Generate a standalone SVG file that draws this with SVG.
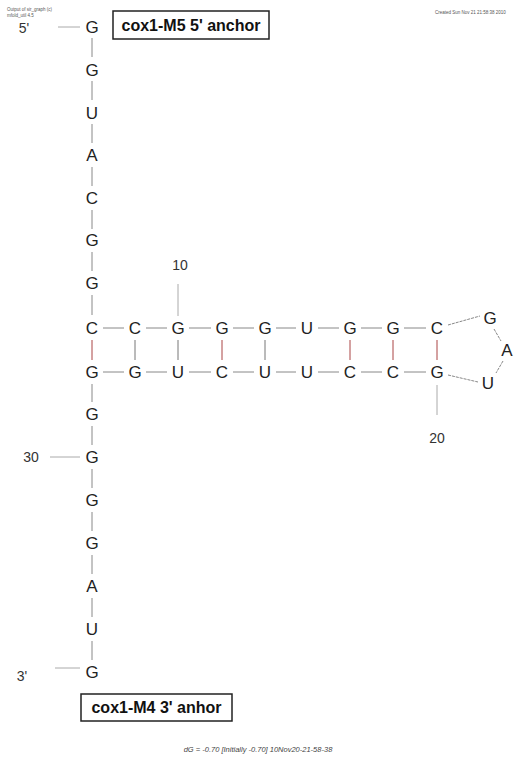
<svg xmlns="http://www.w3.org/2000/svg" width="518" height="772" viewBox="0 0 518 772">
<style>
.b{font-family:"Liberation Sans",Arial,sans-serif;font-size:17px;fill:#222;text-anchor:middle}
.n{font-family:"Liberation Sans",Arial,sans-serif;font-size:14px;fill:#333;text-anchor:middle}
.s{font-family:"Liberation Sans",Arial,sans-serif;font-size:4.5px;fill:#555}
.lbl{font-family:"Liberation Sans",Arial,sans-serif;font-size:16px;font-weight:bold;fill:#111;text-anchor:middle}
.ln{stroke:#888;stroke-width:1;fill:none}
.gc{stroke:#a44;stroke-width:1;fill:none}
.gu{stroke:#777;stroke-width:1;fill:none}
.box{fill:#fff;stroke:#222;stroke-width:1.5}
</style>
<rect width="518" height="772" fill="#fff"/>
<text class="s" x="7" y="11">Output of sir_graph (c)</text>
<text class="s" x="7" y="17">mfold_util 4.5</text>
<text class="s" x="435" y="14">Created Sun Nov 21 21:58:38 2010</text>
<g id="connectors">
<path class="ln" d="M92 38V57M92 81V100M92 124V143M92 167V186M92 210V229M92 252V271M92 295V315M92 384V402M92 426V445M92 469V488M92 512V531M92 555V574M92 598V617M92 641V660"/>
<path class="ln" d="M103 328H124M146 328H167M189 328H211M233 328H254M276 328H296M318 328H339M361 328H382M404 328H426"/>
<path class="ln" d="M103 372H124M146 372H167M189 372H211M233 372H254M276 372H296M318 372H339M361 372H382M404 372H426"/>
<path class="ln" d="M448 325L480 316M494 329L501 341M503 361L496 373M448 375L478 382" stroke-dasharray="3 1"/>
<path class="gc" d="M92 340V360M222 340V360M350 340V360M393 340V360M437 340V360"/>
<path class="gu" d="M135 340V360M178 340V360M265 340V360"/>
<path d="M178 284V316M437 385V415M50 457H80M58 27H80M55 668H80" stroke="#aaa" stroke-width="1" fill="none"/>
</g>
<g id="n1"><text class="b" x="92" y="33">G</text></g>
<g id="n2"><text class="b" x="92" y="76">G</text></g>
<g id="n3"><text class="b" x="92" y="119">U</text></g>
<g id="n4"><text class="b" x="92" y="161">A</text></g>
<g id="n5"><text class="b" x="92" y="204">C</text></g>
<g id="n6"><text class="b" x="92" y="246">G</text></g>
<g id="n7"><text class="b" x="92" y="289">G</text></g>
<g id="n8"><text class="b" x="92" y="334">C</text></g>
<g id="n9"><text class="b" x="135" y="334">C</text></g>
<g id="n10"><text class="b" x="178" y="334">G</text></g>
<g id="n11"><text class="b" x="222" y="334">G</text></g>
<g id="n12"><text class="b" x="265" y="334">G</text></g>
<g id="n13"><text class="b" x="307" y="334">U</text></g>
<g id="n14"><text class="b" x="350" y="334">G</text></g>
<g id="n15"><text class="b" x="393" y="334">G</text></g>
<g id="n16"><text class="b" x="437" y="334">C</text></g>
<g id="n17"><text class="b" x="490" y="324">G</text></g>
<g id="n18"><text class="b" x="507" y="356">A</text></g>
<g id="n19"><text class="b" x="488" y="389">U</text></g>
<g id="n20"><text class="b" x="437" y="378">G</text></g>
<g id="n21"><text class="b" x="393" y="378">C</text></g>
<g id="n22"><text class="b" x="350" y="378">C</text></g>
<g id="n23"><text class="b" x="307" y="378">U</text></g>
<g id="n24"><text class="b" x="265" y="378">U</text></g>
<g id="n25"><text class="b" x="222" y="378">C</text></g>
<g id="n26"><text class="b" x="178" y="378">U</text></g>
<g id="n27"><text class="b" x="135" y="378">G</text></g>
<g id="n28"><text class="b" x="92" y="378">G</text></g>
<g id="n29"><text class="b" x="92" y="420">G</text></g>
<g id="n30"><text class="b" x="92" y="463">G</text></g>
<g id="n31"><text class="b" x="92" y="506">G</text></g>
<g id="n32"><text class="b" x="92" y="549">G</text></g>
<g id="n33"><text class="b" x="92" y="592">A</text></g>
<g id="n34"><text class="b" x="92" y="635">U</text></g>
<g id="n35"><text class="b" x="92" y="678">G</text></g>
<g id="labels">
<text class="n" x="24" y="33">5'</text>
<text class="n" x="22" y="681">3'</text>
<text class="n" x="180" y="270">10</text>
<text class="n" x="437" y="443">20</text>
<text class="n" x="31" y="462">30</text>
</g>
<g id="anchor5"><rect class="box" x="113" y="11" width="156" height="28"/><text class="lbl" x="191" y="31">cox1-M5 5' anchor</text></g>
<g id="anchor3"><rect class="box" x="81" y="694" width="151" height="27"/><text class="lbl" x="156.5" y="713">cox1-M4 3' anhor</text></g>
<text x="258" y="752" style="font-family:'Liberation Sans',Arial,sans-serif;font-size:7.5px;font-style:italic;fill:#444;text-anchor:middle">dG = -0.70 [Initially -0.70] 10Nov20-21-58-38</text>
</svg>
